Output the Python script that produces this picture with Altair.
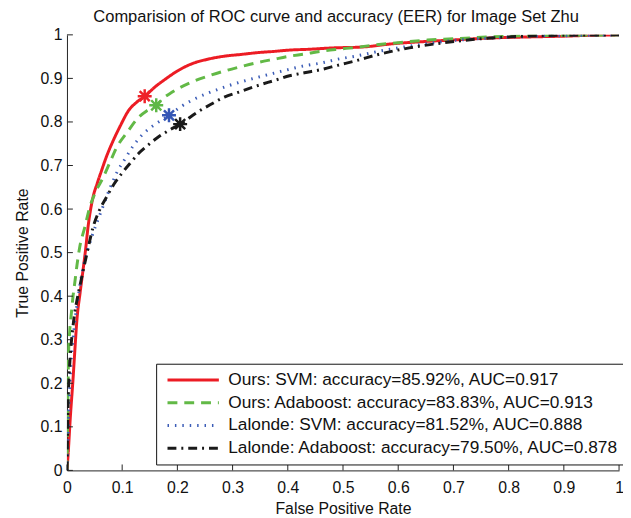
import altair as alt
import pandas as pd

# ---------------- data ----------------
series_names = [
    "Ours: SVM: accuracy=85.92%, AUC=0.917",
    "Ours: Adaboost: accuracy=83.83%, AUC=0.913",
    "Lalonde: SVM: accuracy=81.52%, AUC=0.888",
    "Lalonde: Adaboost: accuracy=79.50%, AUC=0.878",
]

ours_svm_fpr = [0, 0.002, 0.006, 0.011, 0.014, 0.018, 0.024, 0.029, 0.034, 0.038, 0.047, 0.055,
                0.062, 0.072, 0.083, 0.097, 0.112, 0.126, 0.141, 0.160, 0.178, 0.200, 0.225,
                0.255, 0.285, 0.315, 0.344, 0.375, 0.403, 0.440, 0.481, 0.534, 0.594, 0.653,
                0.710, 0.772, 0.830, 0.900, 0.950, 1.0]
ours_svm_tpr = [0, 0.035, 0.12, 0.21, 0.27, 0.345, 0.41, 0.459, 0.51, 0.557, 0.626, 0.660,
                0.686, 0.722, 0.755, 0.792, 0.827, 0.845, 0.859, 0.881, 0.898, 0.917, 0.933,
                0.944, 0.951, 0.955, 0.959, 0.962, 0.965, 0.967, 0.970, 0.972, 0.980, 0.985,
                0.989, 0.993, 0.995, 0.997, 0.999, 1.0]

ours_ada_fpr = [0, 0.001, 0.002, 0.003, 0.005, 0.008, 0.011, 0.014, 0.018, 0.023, 0.032, 0.041,
                0.052, 0.065, 0.077, 0.089, 0.110, 0.130, 0.145, 0.162, 0.175, 0.190, 0.225,
                0.255, 0.285, 0.315, 0.344, 0.375, 0.403, 0.430, 0.463, 0.490, 0.522, 0.560,
                0.600, 0.653, 0.700, 0.760, 0.831, 0.900, 1.0]
ours_ada_tpr = [0, 0.10, 0.20, 0.27, 0.32, 0.361, 0.40, 0.429, 0.47, 0.512, 0.557, 0.603,
                0.640, 0.671, 0.705, 0.739, 0.778, 0.811, 0.826, 0.838, 0.855, 0.868, 0.891,
                0.905, 0.917, 0.927, 0.936, 0.944, 0.951, 0.956, 0.963, 0.967, 0.971, 0.977,
                0.982, 0.988, 0.991, 0.995, 0.998, 0.999, 1.0]

lal_svm_fpr = [0, 0.002, 0.004, 0.007, 0.011, 0.015, 0.020, 0.026, 0.034, 0.046, 0.062, 0.077,
               0.090, 0.106, 0.120, 0.136, 0.160, 0.185, 0.205, 0.225, 0.255, 0.285, 0.315,
               0.344, 0.375, 0.403, 0.430, 0.463, 0.490, 0.522, 0.564, 0.600, 0.653, 0.700,
               0.760, 0.830, 0.900, 1.0]
lal_svm_tpr = [0, 0.08, 0.16, 0.24, 0.30, 0.35, 0.395, 0.444, 0.49, 0.54, 0.595, 0.645,
               0.683, 0.717, 0.745, 0.770, 0.795, 0.815, 0.834, 0.849, 0.866, 0.880, 0.892,
               0.902, 0.912, 0.921, 0.929, 0.936, 0.944, 0.951, 0.962, 0.970, 0.980, 0.987,
               0.992, 0.996, 0.998, 1.0]

lal_ada_fpr = [0, 0.001, 0.002, 0.004, 0.007, 0.010, 0.014, 0.018, 0.023, 0.032, 0.040, 0.047,
               0.058, 0.071, 0.085, 0.100, 0.115, 0.130, 0.148, 0.166, 0.185, 0.205, 0.237,
               0.260, 0.285, 0.315, 0.344, 0.375, 0.403, 0.430, 0.463, 0.490, 0.522, 0.564,
               0.620, 0.683, 0.750, 0.831, 0.900, 1.0]
lal_ada_tpr = [0, 0.08, 0.15, 0.22, 0.28, 0.32, 0.361, 0.39, 0.421, 0.474, 0.52, 0.557,
               0.595, 0.626, 0.657, 0.683, 0.706, 0.728, 0.748, 0.766, 0.781, 0.795, 0.823,
               0.840, 0.857, 0.870, 0.883, 0.895, 0.906, 0.913, 0.921, 0.930, 0.940, 0.955,
               0.970, 0.982, 0.991, 0.997, 0.999, 1.0]

# equal-error-rate operating points (fpr = 1 - accuracy, tpr = accuracy)
eer_fpr = [0.1408, 0.1617, 0.1848, 0.2050]
eer_tpr = [0.8592, 0.8383, 0.8152, 0.7950]

tick_values = [0, 0.1, 0.2, 0.3, 0.4, 0.5, 0.6, 0.7, 0.8, 0.9, 1]

# ---------------- styles ----------------
line_colors = ["#ec1c24", "#62b946", "#3c5db7", "#1a1a1a"]
star_colors = ["#ee2229", "#5fb847", "#3557b5", "#1a1a1a"]
dashes = [[1, 0], [10, 7], [1.5, 6], [9, 5, 2, 5]]
widths = [3, 3, 2, 3]
FONT = "Liberation Sans"
W, H = 559, 441
STAR = "M-1,0L1,0M0,-1L0,1M-0.72,-0.72L0.72,0.72M-0.72,0.72L0.72,-0.72"

rows = []
for name, fx, ty in zip(series_names,
                        [ours_svm_fpr, ours_ada_fpr, lal_svm_fpr, lal_ada_fpr],
                        [ours_svm_tpr, ours_ada_tpr, lal_svm_tpr, lal_ada_tpr]):
    for a, b in zip(fx, ty):
        rows.append({"series": name, "fpr": a, "tpr": b})
curves = pd.DataFrame(rows)
eer = pd.DataFrame({"series": series_names, "fpr": eer_fpr, "tpr": eer_tpr})
ticks_df = pd.DataFrame({"t": tick_values})

xscale = alt.Scale(domain=[0, 1], nice=False, zero=False)
yscale = alt.Scale(domain=[0, 1], nice=False, zero=False)

legend = alt.Legend(
    title=None, orient="none", legendX=90.3, legendY=333,
    symbolType="stroke", symbolSize=2704, symbolStrokeWidth=3, clipHeight=23,
    rowPadding=0, padding=5, symbolOffset=5, labelOffset=8,
    labelFont=FONT, labelFontSize=17.5, labelColor="#111", labelLimit=600,
    strokeColor="#111", fillColor="white", cornerRadius=0,
)

axis_style = dict(labelFont=FONT, titleFont=FONT, labelFontSize=16, titleFontSize=16,
                  titleFontWeight="normal", labelColor="#111", titleColor="#111",
                  domainColor="#222", domainWidth=1, ticks=False, tickSize=0,
                  grid=False, labelFlush=False, labelOverlap=False,
                  values=tick_values, format="~g")

lines = alt.Chart(curves).mark_line(interpolate="monotone", clip=True).encode(
    x=alt.X("fpr:Q", scale=xscale, axis=alt.Axis(
        title="False Positive Rate", labelPadding=9, titlePadding=6, **axis_style)),
    y=alt.Y("tpr:Q", scale=yscale, axis=alt.Axis(
        title="True Positive Rate", labelPadding=5, titlePadding=10, **axis_style)),
    color=alt.Color("series:N", scale=alt.Scale(domain=series_names, range=line_colors), legend=legend),
    strokeDash=alt.StrokeDash("series:N", scale=alt.Scale(domain=series_names, range=dashes), legend=legend),
    strokeWidth=alt.StrokeWidth("series:N", scale=alt.Scale(domain=series_names, range=widths), legend=None),
    order=alt.Order("fpr:Q"),
)

stars = [
    alt.Chart(eer).transform_filter(alt.datum.series == n).mark_point(
        shape=STAR, filled=False, size=200, strokeWidth=2.5, color=c, opacity=1
    ).encode(x=alt.X("fpr:Q", scale=xscale), y=alt.Y("tpr:Q", scale=yscale))
    for n, c in zip(series_names, star_colors)
]

xticks = alt.Chart(ticks_df).mark_rule(color="#222", strokeWidth=1).encode(
    x=alt.X("t:Q", scale=xscale), y=alt.value(H), y2=alt.value(H - 6))
yticks = alt.Chart(ticks_df).mark_rule(color="#222", strokeWidth=1).encode(
    y=alt.Y("t:Q", scale=yscale), x=alt.value(0), x2=alt.value(6))

chart = alt.layer(lines, *stars, xticks, yticks).properties(
    width=W, height=H,
    background="white",
    title=alt.Title("Comparision of ROC curve and accuracy (EER) for Image Set Zhu",
                    font=FONT, fontSize=16.7, fontWeight="normal", color="#111",
                    anchor="middle", offset=1, dx=-7),
    autosize=alt.AutoSizeParams(type="none"),
    padding={"left": 59.7, "top": 24, "right": 4, "bottom": 44},
).configure_view(stroke=None)

chart.save("out.html", embed_options={"renderer": "svg", "actions": False})
